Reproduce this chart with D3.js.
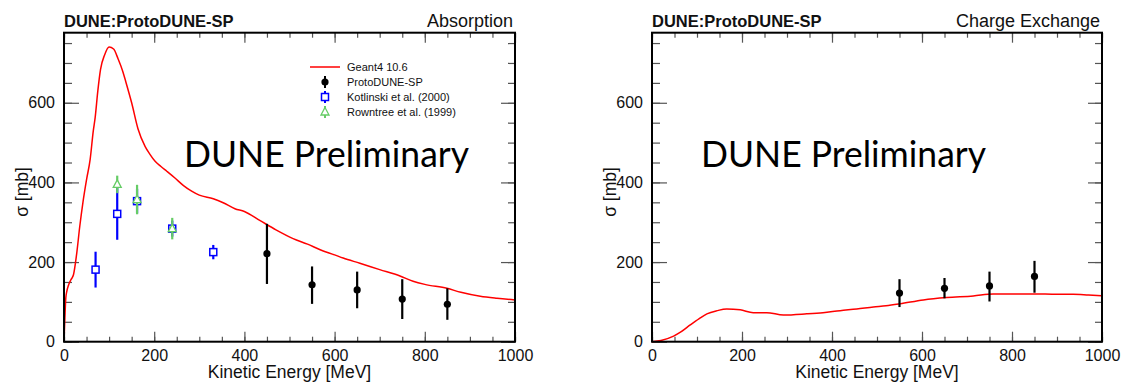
<!DOCTYPE html>
<html>
<head>
<meta charset="utf-8">
<script src="https://cdn.jsdelivr.net/npm/d3@7"></script>
<style>
    body { margin: 0; background: #fff; }
    svg text { font-family: "Liberation Sans", Arial, sans-serif; fill: #111; }
</style>
</head>
<body>
<svg id="chart" width="1122" height="382"></svg>
<script>
// ======== Data ========
// Geant4 10.6 prediction, absorption
const absGeantE  = [0, 2, 4, 6, 10, 15, 21, 28, 35, 42, 50, 58, 65, 69, 75, 81, 90, 100, 110, 120, 130, 137, 150, 164, 180, 191, 202, 215, 228, 246, 265, 283, 300, 331, 353, 379, 400, 435, 470, 508, 540, 568, 600, 619, 656, 700, 745, 774, 800, 849, 880, 923, 960, 1000];
const absGeantXS = [0, 60, 110, 125, 142, 155, 168, 220, 290, 350, 407, 458, 530, 562, 630, 684, 720, 740, 735, 710, 680, 653, 600, 535, 490, 470, 453, 440, 428, 411, 392, 378, 368, 359, 349, 334, 327, 304, 281, 259, 245, 231, 218, 210, 197, 181, 165, 152, 144, 134, 124, 114, 109, 105];

// Geant4 10.6 prediction, charge exchange
const cexGeantE  = [0, 20, 48, 65, 85, 105, 122, 145, 166, 196, 225, 255, 292, 344, 380, 418, 455, 492, 520, 551, 603, 655, 714, 758, 800, 847, 900, 936, 970, 1000];
const cexGeantXS = [0, 3, 14, 25, 42, 58, 70, 78, 82, 80, 73, 73, 67, 70, 73, 78, 82, 87, 90, 95, 105, 111, 115, 120, 120, 120, 119, 119, 117, 115];

// ProtoDUNE-SP measurements
const pdspE        = [550, 650, 750, 850];
const pdspAbsE     = [450, 550, 650, 750, 850];
const pdspAbsXS    = [221, 143, 130, 107, 94];
const pdspAbsErrUp = [75, 46, 46, 50, 40];
const pdspAbsErrDn = [76, 48, 46, 50, 39];
const pdspCexXS    = [122, 134, 140, 164];
const pdspCexErrUp = [35, 26, 36, 39];
const pdspCexErrDn = [35, 25, 39, 41];

// Kotlinski et al. (2000)
const kotE   = [70, 118, 162, 240, 331];
const kotXS  = [181, 321, 353, 284, 225];
const kotErr = [45, 65, 31, 20, 18];

// Rowntree et al. (1999)
const rowE   = [118, 162, 240];
const rowXS  = [395, 357, 284];
const rowErr = [22, 37, 27];

const xTicks = [0, 200, 400, 600, 800, 1000];
const yTicks = [0, 200, 400, 600];
const legendLabels = ['Geant4 10.6', 'ProtoDUNE-SP', 'Kotlinski et al. (2000)', 'Rowntree et al. (1999)'];

// ======== Drawing ========
const svg = d3.select('#chart');
const RED = '#ff0000', BLUE = '#0000ff', GREEN = '#66cc66';

function zip(xs, ys) {
    return xs.map(function (x, i) { return [x, ys[i]]; });
}

function draw_panel(left, right, title, prelimX, curve, sets) {
    const top = 32.7, bottom = 341.7;
    const x = d3.scaleLinear().domain([0, 1000]).range([left, right]);
    const y = d3.scaleLinear().domain([0, 776]).range([bottom, top]);
    const g = svg.append('g');

    // tick marks on all four sides (ROOT style, pointing inwards)
    function ticks(axis, transform, size) {
        const a = g.append('g').attr('transform', transform).call(axis.tickSize(size).tickFormat(''));
        a.select('.domain').remove();
        a.selectAll('line').attr('stroke', '#555').attr('stroke-width', 1.2);
    }
    const minorX = d3.range(0, 1001, 50), minorY = d3.range(0, 776, 50);
    ticks(d3.axisBottom(x).tickValues(minorX), `translate(0,${bottom})`, -5);
    ticks(d3.axisBottom(x).tickValues(xTicks), `translate(0,${bottom})`, -10);
    ticks(d3.axisTop(x).tickValues(minorX), `translate(0,${top})`, -5);
    ticks(d3.axisTop(x).tickValues(xTicks), `translate(0,${top})`, -10);
    ticks(d3.axisLeft(y).tickValues(minorY), `translate(${left},0)`, -8);
    ticks(d3.axisLeft(y).tickValues(yTicks), `translate(${left},0)`, -15);
    ticks(d3.axisRight(y).tickValues(minorY), `translate(${right},0)`, -7);
    ticks(d3.axisRight(y).tickValues(yTicks), `translate(${right},0)`, -14);

    // tick labels
    const xl = g.append('g').attr('transform', `translate(0,${bottom})`)
        .call(d3.axisBottom(x).tickValues(xTicks).tickSize(0).tickPadding(7.5).tickFormat(d3.format('d')));
    const yl = g.append('g').attr('transform', `translate(${left},0)`)
        .call(d3.axisLeft(y).tickValues(yTicks).tickSize(0).tickPadding(9).tickFormat(d3.format('d')));
    [xl, yl].forEach(function (a) {
        a.select('.domain').remove();
        a.selectAll('text').attr('font-size', 16).attr('font-family', '"Liberation Sans", Arial, sans-serif').attr('fill', '#222');
    });

    // Geant4 curve
    g.append('path')
        .datum(curve)
        .attr('fill', 'none')
        .attr('stroke', RED)
        .attr('stroke-width', 1.5)
        .attr('d', d3.line().x(d => x(d[0])).y(d => y(d[1])).curve(d3.curveMonotoneX));

    // data points with error bars
    sets.forEach(function (s) {
        const pts = s.e.map(function (e, i) {
            return { e: e, v: s.v[i], up: s.up[i], dn: s.dn[i] };
        });
        const sel = g.append('g').selectAll('g').data(pts).enter().append('g');
        sel.append('line')
            .attr('x1', d => x(d.e)).attr('x2', d => x(d.e))
            .attr('y1', d => y(d.v - d.dn)).attr('y2', d => y(d.v + d.up))
            .attr('stroke', s.color).attr('stroke-width', 2.2);
        marker(sel, s.kind, d => x(d.e), d => y(d.v));
    });

    // frame
    g.append('rect')
        .attr('x', left).attr('y', top)
        .attr('width', right - left).attr('height', bottom - top)
        .attr('fill', 'none').attr('stroke', '#000').attr('stroke-width', 2);

    // texts
    g.append('text').attr('x', left).attr('y', 27)
        .attr('font-size', 16.5).attr('font-weight', 'bold')
        .text('DUNE:ProtoDUNE-SP');
    g.append('text').attr('x', right - 2).attr('y', 27)
        .attr('font-size', 18).attr('text-anchor', 'end')
        .text(title);
    g.append('text').attr('x', (left + right) / 2).attr('y', 378)
        .attr('font-size', 17.5).attr('text-anchor', 'middle')
        .text('Kinetic Energy [MeV]');
    g.append('text').attr('transform', `translate(${left - 36},192) rotate(-90)`)
        .attr('font-size', 17.5).attr('text-anchor', 'middle')
        .text('σ [mb]');
    g.append('text').attr('x', prelimX).attr('y', 167)
        .attr('font-size', 37)
        .attr('textLength', 285).attr('lengthAdjust', 'spacingAndGlyphs')
        .style('font-family', 'Lato, "Open Sans", sans-serif')
        .style('fill', '#000')
        .text('DUNE Preliminary');
    return g;
}

function marker(sel, kind, cx, cy) {
    if (kind === 'dot') {
        sel.append('circle').attr('cx', cx).attr('cy', cy).attr('r', 3.6).attr('fill', '#000');
    } else if (kind === 'square') {
        sel.append('rect')
            .attr('x', d => cx(d) - 3.5).attr('y', d => cy(d) - 3.5)
            .attr('width', 7).attr('height', 7)
            .attr('fill', '#fff').attr('stroke', BLUE).attr('stroke-width', 1.5);
    } else {
        sel.append('path')
            .attr('d', d => `M${cx(d)},${cy(d) - 4.5}L${cx(d) + 4},${cy(d) + 3}L${cx(d) - 4},${cy(d) + 3}Z`)
            .attr('fill', '#fff').attr('stroke', GREEN).attr('stroke-width', 1.3);
    }
}

// ---- Absorption ----
const pAbs = draw_panel(64, 515, 'Absorption', 184, zip(absGeantE, absGeantXS), [
    { e: kotE, v: kotXS, up: kotErr, dn: kotErr, color: BLUE, kind: 'square' },
    { e: rowE, v: rowXS, up: rowErr, dn: rowErr, color: GREEN, kind: 'triangle' },
    { e: pdspAbsE, v: pdspAbsXS, up: pdspAbsErrUp, dn: pdspAbsErrDn, color: '#000', kind: 'dot' }
]);

// legend
const leg = pAbs.append('g').selectAll('g').data(legendLabels).enter().append('g')
    .attr('transform', (d, i) => `translate(325,${67 + i * 15})`);
leg.append('text').attr('x', 22).attr('dy', '0.35em').attr('font-size', 11).text(d => d);
leg.filter((d, i) => i === 0).append('line')
    .attr('x1', -15).attr('x2', 15).attr('stroke', RED).attr('stroke-width', 1.5);
const legColors = [null, '#000', BLUE, GREEN];
const legKinds = [null, 'dot', 'square', 'triangle'];
leg.filter((d, i) => i > 0).each(function (d, j) {
    const i = j + 1;
    const s = d3.select(this);
    s.append('line').attr('y1', -6).attr('y2', 6).attr('stroke', legColors[i]).attr('stroke-width', 2);
    marker(s.datum({}), legKinds[i], () => 0, () => 0);
});

// ---- Charge exchange ----
draw_panel(652, 1102, 'Charge Exchange', 701, zip(cexGeantE, cexGeantXS), [
    { e: pdspE, v: pdspCexXS, up: pdspCexErrUp, dn: pdspCexErrDn, color: '#000', kind: 'dot' }
]);
</script>
</body>
</html>
